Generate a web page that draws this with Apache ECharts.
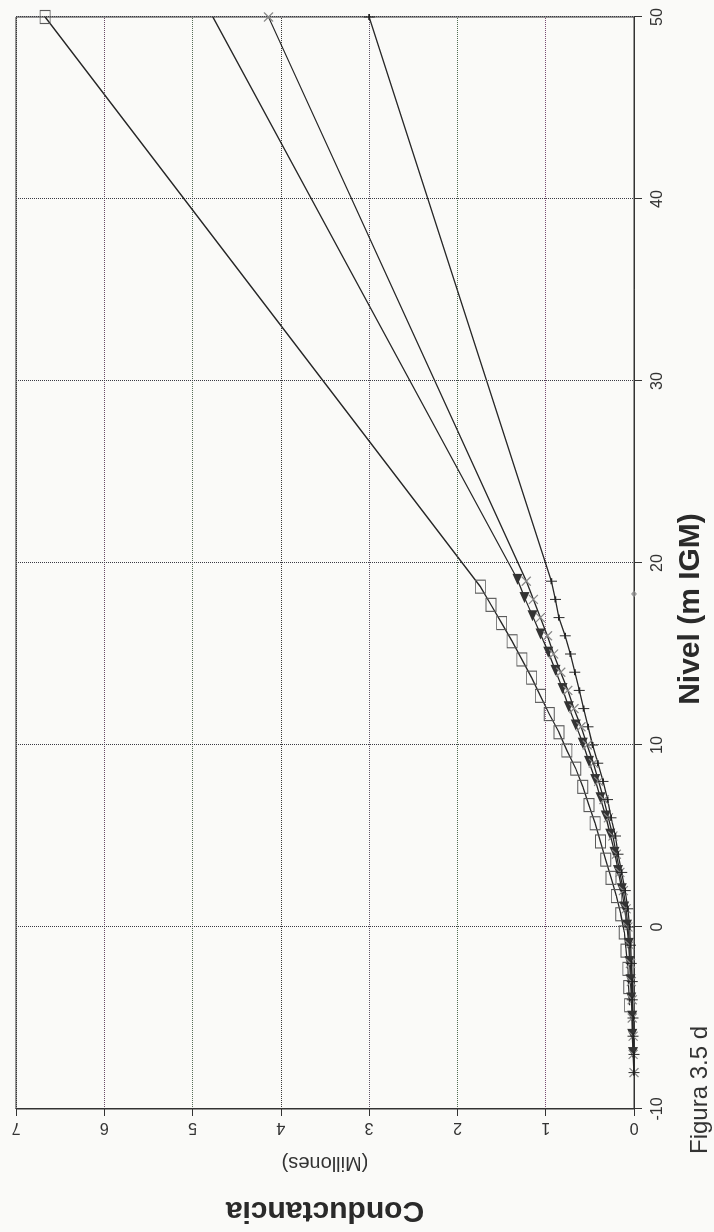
<!DOCTYPE html>
<html>
<head>
<meta charset="utf-8">
<title>Figura 3.5 d</title>
<script src="https://cdn.jsdelivr.net/npm/echarts@6/dist/echarts.min.js"></script>
<style>
  html, body { margin: 0; padding: 0; width: 714px; height: 1232px; overflow: hidden; background: #fafaf8; }
  /* la figura original esta girada 90 grados en la pagina */
  #main { position: absolute; left: -259px; top: 259px; width: 1232px; height: 714px; transform: rotate(-90deg); transform-origin: 50% 50%; }
</style>
</head>
<body>
<div id="main"></div>
<script>
// Nivel (m IGM) y Conductancia (millones)
const nivelCuadros = [-4.3, -3.3, -2.3, -1.3, -0.3, 0.7, 1.7, 2.7, 3.7, 4.7, 5.7, 6.7, 7.7, 8.7, 9.7, 10.7, 11.7, 12.7, 13.7, 14.7, 15.7, 16.7, 17.7, 18.7, 50];
const condCuadros = [0.05, 0.06, 0.07, 0.09, 0.11, 0.15, 0.20, 0.26, 0.32, 0.38, 0.44, 0.51, 0.58, 0.66, 0.76, 0.85, 0.96, 1.06, 1.16, 1.27, 1.38, 1.50, 1.62, 1.74, 6.67];

const nivelTriang = [-6.9, -5.9, -4.9, -3.9, -2.9, -1.9, -0.9, 0.1, 1.1, 2.1, 3.1, 4.1, 5.1, 6.1, 7.1, 8.1, 9.1, 10.1, 11.1, 12.1, 13.1, 14.1, 15.1, 16.1, 17.1, 18.1, 19.1, 50];
const condTriang = [0.01, 0.02, 0.02, 0.03, 0.04, 0.05, 0.06, 0.08, 0.11, 0.14, 0.18, 0.22, 0.27, 0.32, 0.38, 0.44, 0.51, 0.58, 0.66, 0.74, 0.81, 0.89, 0.97, 1.06, 1.15, 1.24, 1.32, 4.77];

const nivelCruz = [-8, -7, -6, -5, -4, -3, -2, -1, 0, 1, 2, 3, 4, 5, 6, 7, 8, 9, 10, 11, 12, 13, 14, 15, 16, 17, 18, 19, 50];
const condCruz = [0.0, 0.01, 0.01, 0.02, 0.02, 0.03, 0.04, 0.05, 0.07, 0.09, 0.12, 0.16, 0.20, 0.24, 0.29, 0.34, 0.40, 0.46, 0.53, 0.60, 0.68, 0.75, 0.83, 0.91, 0.98, 1.06, 1.14, 1.22, 4.14];

const nivelMas = [-8, -7, -6, -5, -4, -3, -2, -1, 0, 1, 2, 3, 4, 5, 6, 7, 8, 9, 10, 11, 12, 13, 14, 15, 16, 17, 18, 19, 50];
const condMas = [0.0, 0.0, 0.01, 0.01, 0.02, 0.02, 0.03, 0.04, 0.05, 0.07, 0.10, 0.14, 0.18, 0.21, 0.26, 0.30, 0.35, 0.41, 0.47, 0.52, 0.57, 0.62, 0.67, 0.72, 0.78, 0.85, 0.89, 0.935, 3.0];

const puntoSuelto = [[18.3, 0]];

const nivelTicks = [-10, 0, 10, 20, 30, 40, 50];
const condTicks = [0, 1, 2, 3, 4, 5, 6, 7];

function pares(xs, ys) {
  return xs.map(function (x, i) { return [x, ys[i]]; });
}

const chart = echarts.init(document.getElementById('main'));
const linea = { color: '#262626', width: 1.3 };

// el ultimo punto de los triangulos sale por el borde, sin marcador
const datosTriang = pares(nivelTriang, condTriang);
datosTriang[datosTriang.length - 1] = { value: datosTriang[datosTriang.length - 1], symbol: 'none' };

chart.setOption({
  animation: false,
  backgroundColor: '#fafaf8',
  textStyle: { fontFamily: 'Liberation Sans, Arial, sans-serif' },
  title: {
    text: 'Figura 3.5 d',
    left: 78,
    top: 688,
    padding: 0,
    textStyle: { fontSize: 24, fontWeight: 'normal', color: '#333' }
  },
  graphic: [{
    type: 'text',
    x: 22,
    y: 325,
    rotation: Math.PI / 2,
    style: {
      text: 'Conductancia',
      font: 'bold 30px "Liberation Sans", Arial, sans-serif',
      fill: '#2a2a2a',
      align: 'center',
      verticalAlign: 'middle'
    }
  }],
  grid: {
    left: 123, right: 17, top: 16, bottom: 80,
    show: true, borderColor: '#333', borderWidth: 1
  },
  xAxis: {
    type: 'value',
    min: nivelTicks[0],
    max: nivelTicks[nivelTicks.length - 1],
    interval: 10,
    name: 'Nivel (m IGM)',
    nameLocation: 'middle',
    nameGap: 42,
    nameTextStyle: { fontSize: 30, fontWeight: 'bold', color: '#2a2a2a', padding: [0, 92, 0, 0] },
    axisLine: { onZero: false, lineStyle: { color: '#333', width: 1 } },
    axisTick: { show: true, length: 8, lineStyle: { color: '#333' } },
    axisLabel: { fontSize: 16, color: '#333', margin: 16 },
    splitLine: { show: true, lineStyle: { color: '#3a3a44', type: 'dotted', width: 1 } }
  },
  yAxis: {
    type: 'value',
    min: condTicks[0],
    max: condTicks[condTicks.length - 1],
    interval: 1,
    name: '(Millones)',
    nameLocation: 'middle',
    nameGap: 44,
    nameTextStyle: { fontSize: 20, color: '#333' },
    axisLine: { show: true, onZero: false, lineStyle: { color: '#333', width: 1 } },
    axisTick: { show: true, length: 7, lineStyle: { color: '#333' } },
    axisLabel: { fontSize: 16, color: '#333', margin: 10, rotate: 90 },
    splitLine: {
      show: true,
      lineStyle: {
        color: ['#333', '#7a4a72', '#4f6e52', '#5e5266', '#3a3a3a', '#566e58', '#6a4a66', '#333'],
        type: 'dotted', width: 1
      }
    }
  },
  series: [
    {
      name: 'cuadros', type: 'line', data: pares(nivelCuadros, condCuadros),
      symbol: 'rect', symbolSize: [13, 10], showAllSymbol: true,
      lineStyle: linea,
      itemStyle: { color: 'rgba(0,0,0,0)', borderColor: '#5a5a5a', borderWidth: 1 }
    },
    {
      name: 'triangulos', type: 'line', data: datosTriang,
      symbol: 'triangle', symbolSize: [10, 11], symbolRotate: 90, showAllSymbol: true,
      lineStyle: linea,
      itemStyle: { color: '#333' }
    },
    {
      name: 'aspas', type: 'line', data: pares(nivelCruz, condCruz),
      symbol: 'path://M0,0L10,10M0,10L10,0', symbolSize: 9, showAllSymbol: true,
      lineStyle: linea,
      itemStyle: { color: '#888', borderColor: '#888', borderWidth: 1.2 }
    },
    {
      name: 'cruces', type: 'line', data: pares(nivelMas, condMas),
      symbol: 'path://M5,0L5,10M0,5L10,5', symbolSize: [6, 11], showAllSymbol: true,
      lineStyle: linea,
      itemStyle: { color: '#222', borderColor: '#222', borderWidth: 1.3 }
    },
    {
      name: 'punto', type: 'scatter', data: puntoSuelto, clip: false,
      symbol: 'diamond', symbolSize: [7, 6],
      itemStyle: { color: '#8a8a8a' }
    }
  ]
});
</script>
</body>
</html>
